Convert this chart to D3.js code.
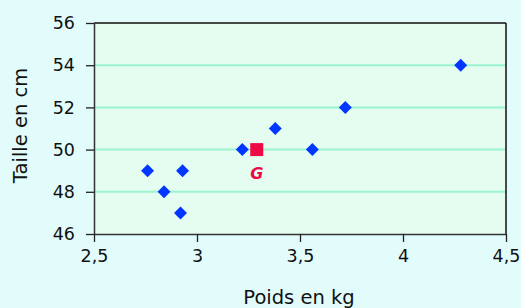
<!DOCTYPE html>
<html>
<head>
<meta charset="utf-8">
<script src="https://cdn.jsdelivr.net/npm/d3@7"></script>
<style>
  body { margin: 0; background: #e2fcfc; }
  svg { display: block; font-family: "DejaVu Sans", sans-serif; }
</style>
</head>
<body>
<svg id="chart" width="521" height="308"></svg>
<script>
// Data: weight (kg) and height (cm) of babies
const poids = [2.76, 2.84, 2.92, 2.93, 3.22, 3.38, 3.56, 3.72, 4.28];
const taille = [49, 48, 47, 49, 50, 51, 50, 52, 54];
const xTicks = [2.5, 3, 3.5, 4, 4.5];
const yTicks = [46, 48, 50, 52, 54, 56];
const pointG = { label: "G", x: d3.mean(poids), y: d3.mean(taille) };

const svg = d3.select("#chart"),
    width = +svg.attr("width"),
    height = +svg.attr("height"),
    margin = { top: 23, right: 15, bottom: 74, left: 94 },
    chartWidth = width - margin.left - margin.right,
    chartHeight = height - margin.top - margin.bottom;

const chart = svg.append("g")
    .attr("transform", `translate(${margin.left},${margin.top})`);

const x = d3.scaleLinear().domain([2.5, 4.5]).range([0, chartWidth]);
const y = d3.scaleLinear().domain([46, 56]).range([chartHeight, 0]);

const fmt = d => String(d).replace(".", ",");

// Plot background
chart.append("rect")
    .attr("width", chartWidth)
    .attr("height", chartHeight)
    .attr("fill", "#e4fdf0");

// Horizontal grid lines
chart.selectAll(".grid")
    .data(yTicks.slice(1, -1))
    .join("line")
    .attr("x1", 0)
    .attr("x2", chartWidth)
    .attr("y1", d => y(d))
    .attr("y2", d => y(d))
    .attr("stroke", "#9df3d0")
    .attr("stroke-width", 2);

// Frame top / right
chart.append("line")
    .attr("x1", 0).attr("x2", chartWidth)
    .attr("y1", 0).attr("y2", 0)
    .attr("stroke", "#111").attr("stroke-width", 1.5);
chart.append("line")
    .attr("x1", chartWidth).attr("x2", chartWidth)
    .attr("y1", 0).attr("y2", chartHeight)
    .attr("stroke", "#111").attr("stroke-width", 1.5);

// Axes
const xAxis = chart.append("g")
    .attr("transform", `translate(0,${chartHeight})`)
    .call(d3.axisBottom(x).tickValues(xTicks).tickFormat(fmt).tickSize(8).tickSizeOuter(0));

const yAxis = chart.append("g")
    .call(d3.axisLeft(y).tickValues(yTicks).tickSize(8).tickSizeOuter(0));

[xAxis, yAxis].forEach(a => {
    a.select(".domain").attr("stroke", "#333").attr("stroke-width", 1.5);
    a.selectAll(".tick line").attr("stroke", "#222").attr("stroke-width", 1.3);
    a.selectAll("text")
        .style("font-size", "17.5px")
        .style("font-family", "'DejaVu Sans', sans-serif")
        .attr("fill", "#111");
});
xAxis.selectAll("text").attr("y", 16).attr("dy", "0.71em");
yAxis.selectAll("text").attr("x", -19);

// Points
chart.selectAll(".pt")
    .data(poids.map((p, i) => ({ x: p, y: taille[i] })))
    .join("path")
    .attr("d", d3.symbol(d3.symbolSquare, 84))
    .attr("transform", d => `translate(${x(d.x)},${y(d.y)}) rotate(45)`)
    .attr("fill", "#0036ff");

// Mean point G
chart.append("rect")
    .attr("x", x(pointG.x) - 6.5)
    .attr("y", y(pointG.y) - 6.5)
    .attr("width", 13)
    .attr("height", 13)
    .attr("fill", "#ee0a45");

chart.append("text")
    .attr("x", x(pointG.x))
    .attr("y", y(pointG.y) + 29)
    .attr("text-anchor", "middle")
    .style("font-size", "16px")
    .style("font-weight", "bold")
    .style("font-style", "italic")
    .attr("fill", "#ee0a45")
    .text(pointG.label);

// Axis titles
svg.append("text")
    .attr("x", 299)
    .attr("y", 304)
    .attr("text-anchor", "middle")
    .style("font-size", "19.5px")
    .attr("fill", "#111")
    .text("Poids en kg");

svg.append("text")
    .attr("transform", `translate(27,${margin.top + chartHeight / 2 - 3}) rotate(-90)`)
    .attr("text-anchor", "middle")
    .style("font-size", "19.5px")
    .attr("fill", "#111")
    .text("Taille en cm");
</script>
</body>
</html>
